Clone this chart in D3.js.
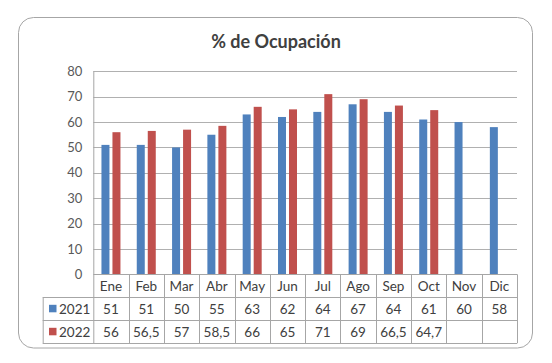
<!DOCTYPE html>
<html><head><meta charset="utf-8">
<script src="https://cdn.jsdelivr.net/npm/d3@7"></script>
<style>
html,body{margin:0;padding:0;background:#fff;}
svg text{font-family:Lato,"Open Sans",sans-serif;}
</style></head>
<body><svg id="c" width="552" height="363"></svg>
<script>
const title = "% de Ocupación";
const months = ["Ene","Feb","Mar","Abr","May","Jun","Jul","Ago","Sep","Oct","Nov","Dic"];
const seriesNames = ["2021","2022"];
const values2021 = [51,51,50,55,63,62,64,67,64,61,60,58];
const values2022 = [56,56.5,57,58.5,66,65,71,69,66.5,64.7,null,null];
const yTicks = [0,10,20,30,40,50,60,70,80];
const colors = ["#4f81bd","#c0504d"];

const svg = d3.select("#c");
const plot = {left:93.3, right:517, top:71.3, bottom:274.3};
const rowH = 23;
const legendLeft = 42.7;

svg.append("rect").attr("x",18.5).attr("y",17.5).attr("width",514).attr("height",330.5)
  .attr("rx",15).attr("fill","#fff").attr("stroke","#a6a6a6").attr("stroke-width",1);

svg.append("text").attr("x",276).attr("y",48).attr("text-anchor","middle")
  .attr("font-size",18).attr("font-weight","bold").attr("fill","#404040").text(title);

const x0 = d3.scaleBand().domain(months).range([plot.left, plot.right]).padding(0);
const x1 = d3.scaleBand().domain(seriesNames).range([0,19]).paddingInner(3/11);
const y = d3.scaleLinear().domain([0,80]).range([plot.bottom, plot.top]);

// gridlines
svg.append("g").selectAll("line").data(yTicks.filter(d=>d>0)).join("line")
  .attr("x1",plot.left).attr("x2",plot.right)
  .attr("y1",d=>Math.round(y(d))+0.5).attr("y2",d=>Math.round(y(d))+0.5)
  .attr("stroke","#b0b0b0");

// y axis
const yAxis = d3.axisLeft(y).tickValues(yTicks).tickSize(0).tickPadding(11);
const gy = svg.append("g").attr("transform",`translate(${plot.left},0)`).call(yAxis);
gy.select(".domain").remove();
gy.selectAll("text").attr("font-size",13).attr("fill","#595959").attr("font-family","Lato,'Open Sans',sans-serif");

// bars
const data = months.map((m,i)=>({m, vals:[values2021[i], values2022[i]]}));
const groups = svg.append("g").selectAll("g").data(data).join("g")
  .attr("transform",d=>`translate(${x0(d.m)+(x0.bandwidth()-19)/2},0)`);
groups.selectAll("rect").data(d=>d.vals.map((v,j)=>({v,s:seriesNames[j],j})).filter(e=>e.v!=null)).join("rect")
  .attr("x",e=>x1(e.s)).attr("width",x1.bandwidth())
  .attr("y",e=>y(e.v)).attr("height",e=>plot.bottom-y(e.v))
  .attr("fill",e=>colors[e.j]);

// table
const lc = "#a6a6a6";
const tg = svg.append("g");
const tableBottom = plot.bottom + rowH*3;
// left axis line
tg.append("line").attr("x1",plot.left+0.5).attr("x2",plot.left+0.5).attr("y1",plot.top).attr("y2",tableBottom).attr("stroke",lc);
// horizontal lines
tg.append("line").attr("x1",plot.left).attr("x2",plot.right).attr("y1",Math.round(plot.bottom)+0.5).attr("y2",Math.round(plot.bottom)+0.5).attr("stroke",lc);
[1,2,3].forEach(r=>{
  const yy = Math.round(plot.bottom + rowH*r)+0.5;
  tg.append("line").attr("x1",legendLeft).attr("x2",plot.right).attr("y1",yy).attr("y2",yy).attr("stroke",lc);
});
tg.append("line").attr("x1",legendLeft+0.5).attr("x2",legendLeft+0.5).attr("y1",plot.bottom+rowH).attr("y2",tableBottom).attr("stroke",lc);
months.forEach(m=>{
  const xx = Math.round(x0(m)+x0.bandwidth())+0.5;
  tg.append("line").attr("x1",xx).attr("x2",xx).attr("y1",plot.bottom).attr("y2",tableBottom).attr("stroke",lc);
});
// category labels
tg.selectAll("text.cat").data(months).join("text").attr("class","cat")
  .attr("x",m=>x0(m)+x0.bandwidth()/2).attr("y",plot.bottom+rowH/2+5)
  .attr("text-anchor","middle").attr("font-size",13.5).attr("fill","#404040").text(m=>m);
// value rows
[values2021, values2022].forEach((vals,r)=>{
  const cy = plot.bottom + rowH*(r+1) + rowH/2;
  tg.append("rect").attr("x",49).attr("y",cy-4).attr("width",7.5).attr("height",7.5).attr("fill",colors[r]);
  tg.append("text").attr("x",59).attr("y",cy+5).attr("font-size",13.5).attr("fill","#404040").text(seriesNames[r]);
  tg.selectAll(null).data(months).join("text")
    .attr("x",m=>x0(m)+x0.bandwidth()/2).attr("y",cy+5).attr("text-anchor","middle")
    .attr("font-size",13.5).attr("fill","#404040")
    .text((m,i)=>vals[i]==null?"":String(vals[i]).replace(".",","));
});
</script></body></html>
